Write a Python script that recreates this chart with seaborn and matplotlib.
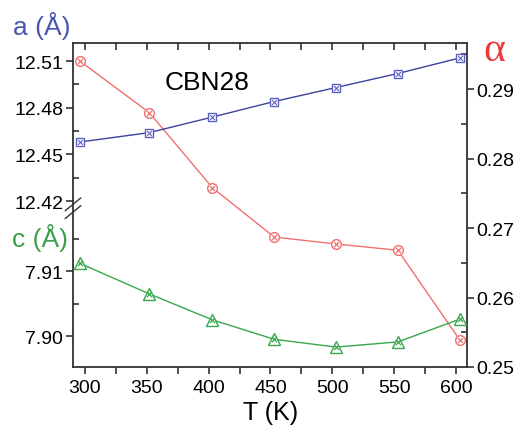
import matplotlib
matplotlib.use("Agg")
import matplotlib.pyplot as plt
import seaborn as sns
from matplotlib.ticker import MultipleLocator, FixedLocator

# Daten
T_K = [296, 352, 403, 453, 503, 553, 603]
a_vals = [12.458, 12.464, 12.474, 12.484, 12.493, 12.502, 12.512]
c_vals = [7.9112, 7.9065, 7.9025, 7.8995, 7.8983, 7.8991, 7.9026]
alpha_vals = [0.2940, 0.2866, 0.2758, 0.2687, 0.2677, 0.2668, 0.2539]
c_ticks = [7.90, 7.91]
c_minor = [7.905, 7.915]
sample = "CBN28"

blue = "#3c42a0"
red = "#f07070"
green = "#38a84c"

sns.set_style("ticks")
plt.rcParams["font.family"] = ["Liberation Sans", "DejaVu Sans"]
plt.rcParams["text.color"] = "black"
plt.rcParams["xtick.color"] = "#222222"
plt.rcParams["ytick.color"] = "#222222"
plt.rcParams["xtick.labelcolor"] = "black"
plt.rcParams["ytick.labelcolor"] = "black"

W, H = 515, 427
fig = plt.figure(figsize=(W / 100, H / 100), dpi=100)
L, R = 73 / W, 467 / W
B, T = 1 - 368 / H, 1 - 44 / H
M = 1 - 206 / H

ax = fig.add_axes([L, B, R - L, T - B])
ax_a = fig.add_axes([L, M, R - L, T - M])
ax_c = fig.add_axes([L, B, R - L, M - B])

xlim = (290.3, 608.9)
for a in (ax, ax_a, ax_c):
    a.set_xlim(*xlim)
    a.set_facecolor("none")
    a.xaxis.set_major_locator(MultipleLocator(50))
    a.xaxis.set_minor_locator(MultipleLocator(25))

# alpha (rechte Achse) + Rahmen
sns.lineplot(x=T_K, y=alpha_vals, ax=ax, color=red, lw=1, marker="o", markersize=7,
             markerfacecolor="white", markeredgecolor=red, markeredgewidth=1)
sns.scatterplot(x=T_K, y=alpha_vals, ax=ax, marker="x", s=14, color=red, linewidth=0.9, zorder=5)
ax.set_ylim(0.25, 0.29662)
ax.yaxis.tick_right()
ax.yaxis.set_major_locator(MultipleLocator(0.01))
ax.yaxis.set_minor_locator(MultipleLocator(0.005))
ax.yaxis.set_major_formatter(plt.FormatStrFormatter("%.2f"))
ax.tick_params(axis="y", which="major", direction="out", length=5, width=1.1, labelsize=14, pad=2)
ax.tick_params(axis="y", which="minor", direction="in", length=4, width=1.1)
ax.tick_params(axis="x", which="both", direction="out", length=5, width=1.1, labelsize=14, pad=4,
               top=False, bottom=True)
for s in ax.spines.values():
    s.set_color("#333333")
    s.set_linewidth(1.3)
ax.set_xlabel("")
ax.set_ylabel("")

# a (oben links)
sns.lineplot(x=T_K, y=a_vals, ax=ax_a, color=blue, lw=1, marker="s", markersize=6,
             markerfacecolor="white", markeredgecolor="#5a60c0", markeredgewidth=1)
sns.scatterplot(x=T_K, y=a_vals, ax=ax_a, marker="x", s=12, color="#5a60c0", linewidth=0.8, zorder=5)
ax_a.set_ylim(12.4175, 12.5216)
ax_a.yaxis.set_major_locator(MultipleLocator(0.03))
ax_a.yaxis.set_minor_locator(MultipleLocator(0.015))
ax_a.yaxis.set_major_formatter(plt.FormatStrFormatter("%.2f"))
ax_a.tick_params(axis="y", which="major", direction="out", length=5, width=1.1, labelsize=14, pad=2)
ax_a.tick_params(axis="y", which="minor", direction="in", length=4, width=1.1)
ax_a.xaxis.tick_top()
ax_a.tick_params(axis="x", which="both", direction="in", length=5, width=1.1, labeltop=False)
for s in ax_a.spines.values():
    s.set_visible(False)

# c (unten links)
sns.lineplot(x=T_K, y=c_vals, ax=ax_c, color=green, lw=1, marker="^", markersize=8,
             markerfacecolor="white", markeredgecolor=green, markeredgewidth=1)
sns.scatterplot(x=T_K, y=c_vals, ax=ax_c, marker="x", s=14, color=green, linewidth=0.9, zorder=5)
ax_c.set_ylim(7.89523, 7.9202)
ax_c.yaxis.set_major_locator(FixedLocator(c_ticks))
ax_c.yaxis.set_minor_locator(FixedLocator(c_minor))
ax_c.yaxis.set_major_formatter(plt.FormatStrFormatter("%.2f"))
ax_c.tick_params(axis="y", which="major", direction="out", length=5, width=1.1, labelsize=14, pad=2)
ax_c.tick_params(axis="y", which="minor", direction="in", length=4, width=1.1)
ax_c.tick_params(axis="x", which="both", bottom=False, labelbottom=False)
for s in ax_c.spines.values():
    s.set_visible(False)

# Achsenbruch
for dy in (-0.012, 0.012):
    ax.plot([-0.02, 0.02], [0.49 + dy - 0.02, 0.49 + dy + 0.02], transform=ax.transAxes,
            color="#333333", lw=1, clip_on=False)

ax.text(0.34, 0.88, sample, transform=ax.transAxes, fontsize=19, ha="center", va="center")

fig.text(42 / W, 1 - 26 / H, "a (Å)", color="#4a55b0", fontsize=19, ha="center", va="center")
fig.text(40 / W, 1 - 238 / H, "c (Å)", color="#3aa04a", fontsize=19, ha="center", va="center")
fig.text(494 / W, 1 - 51 / H, "α", color="#e83a3a", fontsize=30, ha="center", va="center",
         family=["Liberation Serif", "DejaVu Serif"])
fig.text(271 / W, 1 - 413 / H, "T (K)", fontsize=18, ha="center", va="center")

fig.savefig("out.png", dpi=100)
